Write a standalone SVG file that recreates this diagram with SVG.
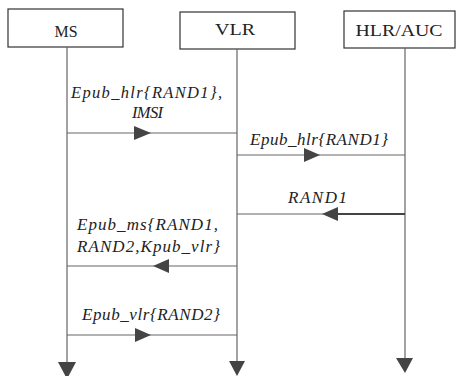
<svg xmlns="http://www.w3.org/2000/svg" width="461" height="376" viewBox="0 0 461 376">
<style>
.box{fill:#fff;stroke:#333;stroke-width:1.2}
.life{stroke:#666;stroke-width:1.2;fill:none}
.msg{stroke:#666;stroke-width:1.1;fill:none}
.head{fill:#444}
.name{font-family:"Liberation Serif",serif;font-size:17px;fill:#222;text-anchor:middle}
.lbl{font-family:"Liberation Serif",serif;font-style:italic;font-size:17px;fill:#222}
.sm{font-size:16.5px}
</style>
<rect width="461" height="376" fill="#fff"/>
<g id="ms">
<rect class="box" x="8" y="9" width="115" height="38"/>
<text class="name" x="66" y="37" textLength="23" lengthAdjust="spacingAndGlyphs">MS</text>
</g>
<g id="vlr">
<rect class="box" x="180" y="12" width="115" height="37"/>
<text class="name" x="235" y="35" textLength="40" lengthAdjust="spacingAndGlyphs">VLR</text>
</g>
<g id="hlr">
<rect class="box" x="344" y="11" width="111" height="37"/>
<text class="name" x="399" y="36" textLength="87" lengthAdjust="spacingAndGlyphs">HLR/AUC</text>
</g>
<g id="connectors">
<line class="life" x1="67" y1="47" x2="67" y2="364"/>
<polygon class="head" points="58,362 76,362 67,379"/>
<line class="life" x1="237" y1="49" x2="237" y2="363"/>
<polygon class="head" points="229,361 245,361 237,376"/>
<line class="life" x1="405" y1="48" x2="405" y2="360"/>
<polygon class="head" points="396,358 413,358 405,373"/>

<line class="msg" x1="67" y1="133" x2="237" y2="133"/>
<polygon class="head" points="134,126 134,140 151,133"/>
<text class="lbl sm" x="71" y="98" textLength="151" lengthAdjust="spacing">Epub_hlr{RAND1},</text>
<text class="lbl sm" x="132" y="117.5" textLength="31" lengthAdjust="spacing">IMSI</text>

<line class="msg" x1="237" y1="155" x2="405" y2="155"/>
<polygon class="head" points="304,148 304,162 320,155"/>
<text class="lbl" x="250" y="145" textLength="138" lengthAdjust="spacing">Epub_hlr{RAND1}</text>

<line class="msg" x1="237" y1="214" x2="330" y2="214"/>
<line x1="330" y1="214" x2="405" y2="214" stroke="#444" stroke-width="2.2"/>
<polygon class="head" points="322,214 338,207 338,221"/>
<text class="lbl" x="288" y="203" textLength="59" lengthAdjust="spacing">RAND1</text>

<line class="msg" x1="67" y1="266" x2="237" y2="266"/>
<polygon class="head" points="153,266 169,259 169,273"/>
<text class="lbl" x="77" y="230" textLength="141" lengthAdjust="spacing">Epub_ms{RAND1,</text>
<text class="lbl" x="77" y="252" textLength="143" lengthAdjust="spacing">RAND2,Kpub_vlr}</text>

<line class="msg" x1="67" y1="335" x2="237" y2="335"/>
<polygon class="head" points="135,328 135,342 151,335"/>
<text class="lbl" x="82" y="320" textLength="138" lengthAdjust="spacing">Epub_vlr{RAND2}</text>
</g>
</svg>
